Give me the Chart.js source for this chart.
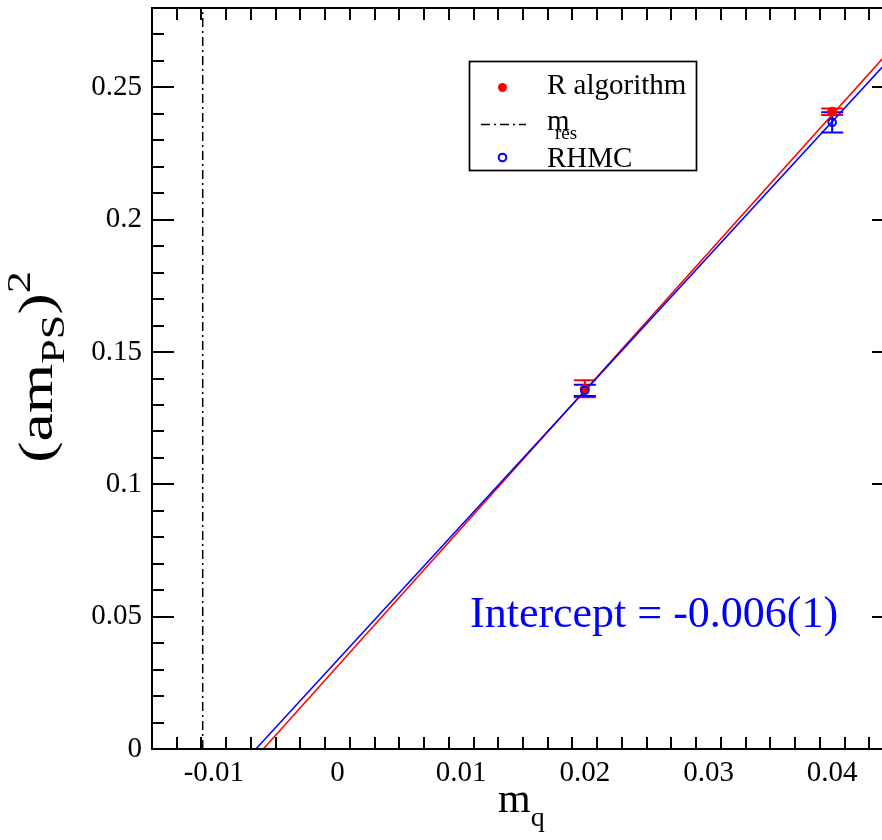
<!DOCTYPE html>
<html><head><meta charset="utf-8">
<script src="https://cdn.jsdelivr.net/npm/chart.js@4.4.0/dist/chart.umd.min.js"></script>
<style>html,body{margin:0;padding:0;overflow:hidden;background:#fff;width:882px;height:840px}
#wrap{position:absolute;left:0;top:0;width:900px;height:840px}</style>
</head><body><div id="wrap"><canvas id="c" width="900" height="840"></canvas></div>
<script>
// ---- data ----
const xTicks = [-0.01, 0, 0.01, 0.02, 0.03, 0.04];
const xTickLabels = ['-0.01', '0', '0.01', '0.02', '0.03', '0.04'];
const xMinorStep = 0.002;
const yTicks = [0, 0.05, 0.1, 0.15, 0.2, 0.25];
const yTickLabels = ['0', '0.05', '0.1', '0.15', '0.2', '0.25'];
const yMinorStep = 0.01;
const mq = [0.02, 0.04];
const rAlgY = [0.1361, 0.2408];
const rAlgErr = [0.0032, 0.0012];
const rhmcY = [0.1355, 0.2368];
const rhmcErr = [0.0021, 0.0038];
const rFitX = [-0.0060, 0.045];
const rFitY = [0, 0.2657];
const rhmcFitX = [-0.0066, 0.045];
const rhmcFitY = [0, 0.2625];
const mresX = [-0.0109, -0.0109];
const mresY = [0, 0.28];
const interceptText = 'Intercept = -0.006(1)';

const FONT = "'Liberation Serif', 'DejaVu Serif', serif";
const pts = (xs, ys) => xs.map((x, i) => ({x: x, y: ys[i]}));

const errBars = [
  {x: mq, y: rAlgY, e: rAlgErr, color: '#ff0000'},
  {x: mq, y: rhmcY, e: rhmcErr, color: '#0000ff'}
];

const zeroPad = s => { s.paddingTop = 0; s.paddingBottom = 0; s.paddingLeft = 0; s.paddingRight = 0; };

const deco = {
  id: 'deco',
  beforeDatasetsDraw(chart) {
    const ctx = chart.ctx, xs = chart.scales.x, ys = chart.scales.y;
    ctx.save();
    errBars.forEach(b => {
      ctx.strokeStyle = b.color; ctx.lineWidth = 2;
      b.x.forEach((xv, i) => {
        const px = xs.getPixelForValue(xv);
        const top = ys.getPixelForValue(b.y[i] + b.e[i]);
        const bot = ys.getPixelForValue(b.y[i] - b.e[i]);
        ctx.beginPath();
        ctx.moveTo(px, top); ctx.lineTo(px, bot);
        ctx.moveTo(px - 11, top); ctx.lineTo(px + 11, top);
        ctx.moveTo(px - 11, bot); ctx.lineTo(px + 11, bot);
        ctx.stroke();
      });
    });
    ctx.restore();
  },
  afterDraw(chart) {
    const ctx = chart.ctx, xs = chart.scales.x, ys = chart.scales.y;
    const a = chart.chartArea;
    ctx.save();
    ctx.strokeStyle = '#000'; ctx.lineWidth = 2;
    ctx.strokeRect(a.left, a.top, a.right - a.left, a.bottom - a.top);
    // ticks
    ctx.beginPath();
    const nX = Math.round((xs.max - xs.min) / xMinorStep);
    for (let k = 0; k <= nX; k++) {
      const v = xs.min + k * xMinorStep;
      const major = xTicks.some(t => Math.abs(t - v) < 1e-9);
      const len = major ? 22 : 12;
      const px = Math.round(xs.getPixelForValue(v));
      ctx.moveTo(px, a.bottom); ctx.lineTo(px, a.bottom - len);
      ctx.moveTo(px, a.top); ctx.lineTo(px, a.top + len);
    }
    const nY = Math.round((ys.max - ys.min) / yMinorStep);
    for (let k = 0; k <= nY; k++) {
      const v = ys.min + k * yMinorStep;
      const major = yTicks.some(t => Math.abs(t - v) < 1e-9);
      const len = major ? 22 : 12;
      const py = Math.round(ys.getPixelForValue(v));
      ctx.moveTo(a.left, py); ctx.lineTo(a.left + len, py);
      ctx.moveTo(a.right, py); ctx.lineTo(a.right - len, py);
    }
    ctx.stroke();

    // legend
    const L = {x: 469.5, y: 61.5, w: 227, h: 109};
    ctx.fillStyle = '#fff';
    ctx.fillRect(L.x, L.y, L.w, L.h);
    ctx.lineWidth = 1.7; ctx.strokeStyle = '#000';
    ctx.strokeRect(L.x, L.y, L.w, L.h);
    ctx.fillStyle = '#ff0000';
    ctx.beginPath(); ctx.arc(502.5, 87.5, 4.5, 0, Math.PI * 2); ctx.fill();
    ctx.strokeStyle = '#000'; ctx.lineWidth = 1.5; ctx.setLineDash([9, 4, 2, 4]);
    ctx.beginPath(); ctx.moveTo(481, 124.5); ctx.lineTo(526, 124.5); ctx.stroke();
    ctx.setLineDash([]);
    ctx.strokeStyle = '#0000ff'; ctx.lineWidth = 2;
    ctx.beginPath(); ctx.arc(502.5, 157.5, 3.8, 0, Math.PI * 2); ctx.stroke();
    ctx.fillStyle = '#000'; ctx.textBaseline = 'alphabetic'; ctx.textAlign = 'left';
    ctx.font = '29px ' + FONT;
    ctx.fillText('R algorithm', 547, 93.5);
    ctx.fillText('m', 547, 130);
    ctx.fillText('RHMC', 547, 166.5);
    ctx.font = '19px ' + FONT;
    ctx.fillText('res', 555, 138.5);

    // intercept text
    ctx.fillStyle = '#0000ff';
    ctx.font = '44px ' + FONT;
    ctx.fillText(interceptText, 470, 627);

    // x title
    ctx.fillStyle = '#000';
    ctx.font = '42px ' + FONT;
    ctx.fillText('m', 498, 812);
    const mw = ctx.measureText('m').width;
    ctx.font = '28px ' + FONT;
    ctx.fillText('q', 498 + mw, 826);

    // y title (rotated)
    ctx.translate(52, 367);
    ctx.rotate(-Math.PI / 2);
    ctx.scale(1.3, 1);
    const parts = [
      {t: '(am', s: 49, dy: 0},
      {t: 'PS', s: 34, dy: 12},
      {t: ')', s: 49, dy: 0},
      {t: '2', s: 34, dy: -22}
    ];
    let tw = 0;
    parts.forEach(p => { ctx.font = p.s + 'px ' + FONT; p.w = ctx.measureText(p.t).width; tw += p.w; });
    let cx = -tw / 2;
    parts.forEach(p => { ctx.font = p.s + 'px ' + FONT; ctx.fillText(p.t, cx, p.dy); cx += p.w; });
    ctx.restore();
  }
};

new Chart(document.getElementById('c'), {
  type: 'scatter',
  data: {
    datasets: [
      {label: 'm_res', data: pts(mresX, mresY), showLine: true, borderColor: '#000', borderWidth: 1.5,
        borderDash: [9, 4, 2, 4], pointRadius: 0, order: 6},
      {label: 'R fit', data: pts(rFitX, rFitY), showLine: true, borderColor: '#ff0000', borderWidth: 1.5,
        pointRadius: 0, order: 5},
      {label: 'RHMC fit', data: pts(rhmcFitX, rhmcFitY), showLine: true, borderColor: '#0000ff', borderWidth: 1.5,
        pointRadius: 0, order: 4},
      {label: 'R algorithm', data: pts(mq, rAlgY), pointStyle: 'circle', pointRadius: 4.5,
        backgroundColor: '#ff0000', borderColor: '#ff0000', borderWidth: 1, order: 3},
      {label: 'RHMC', data: pts(mq, rhmcY), pointStyle: 'circle', pointRadius: 3.8,
        backgroundColor: 'rgba(255,255,255,0)', borderColor: '#0000ff', borderWidth: 2, order: 2}
    ]
  },
  options: {
    responsive: false,
    devicePixelRatio: 1,
    animation: false,
    layout: {padding: {top: 8, right: 5.5, left: 0, bottom: 0}},
    plugins: {legend: {display: false}, tooltip: {enabled: false}},
    scales: {
      x: {
        type: 'linear', min: -0.015, max: 0.045,
        afterBuildTicks: s => { s.ticks = xTicks.map(v => ({value: v})); },
        afterFit: s => { s.height = 91; zeroPad(s); },
        grid: {display: false, drawTicks: false},
        border: {display: false},
        ticks: {callback: (v, i) => xTickLabels[i], font: {family: FONT, size: 29}, color: '#000',
          padding: 7, maxRotation: 0, autoSkip: false}
      },
      y: {
        type: 'linear', min: 0, max: 0.28,
        afterBuildTicks: s => { s.ticks = yTicks.map(v => ({value: v})); },
        afterFit: s => { s.width = 152; zeroPad(s); },
        grid: {display: false, drawTicks: false},
        border: {display: false},
        ticks: {callback: (v, i) => yTickLabels[i], font: {family: FONT, size: 29}, color: '#000',
          padding: 10, autoSkip: false}
      }
    }
  },
  plugins: [deco]
});
</script></body></html>
